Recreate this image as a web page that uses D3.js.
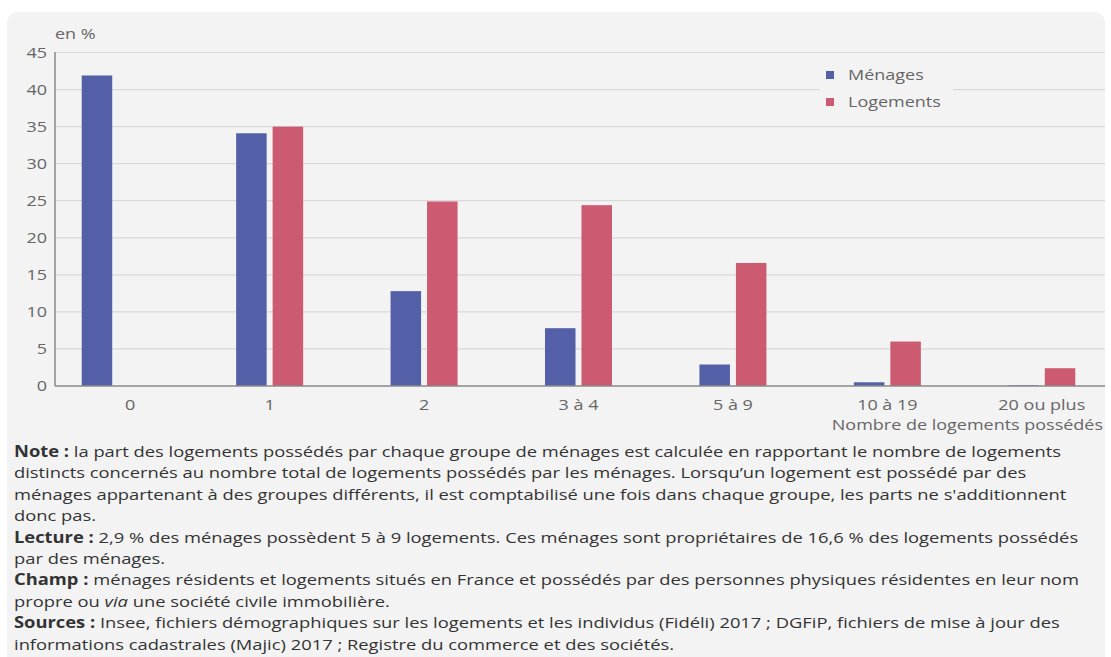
<!DOCTYPE html>
<html>
<head>
<meta charset="utf-8">
<script src="https://cdn.jsdelivr.net/npm/d3@7"></script>
<style>
  body { margin: 0; background: #fff; font-family: "Open Sans", sans-serif; }
  svg { display: block; }
</style>
</head>
<body>
<div id="chart"></div>
<script>
var categories = ["0", "1", "2", "3 à 4", "5 à 9", "10 à 19", "20 ou plus"];
var series = ["Ménages", "Logements"];
var menages = [41.9, 34.1, 12.8, 7.8, 2.9, 0.5, 0.1];
var logements = [0, 35.0, 24.9, 24.4, 16.6, 6.0, 2.4];
var yTicks = [0, 5, 10, 15, 20, 25, 30, 35, 40, 45];
var colors = ["#5360a8", "#cc5a70"];

var notes = [
  [["Note : ", true], ["la part des logements possédés par chaque groupe de ménages est calculée en rapportant le nombre de logements", false]],
  [["distincts concernés au nombre total de logements possédés par les ménages. Lorsqu’un logement est possédé par des", false]],
  [["ménages appartenant à des groupes différents, il est comptabilisé une fois dans chaque groupe, les parts ne s'additionnent", false]],
  [["donc pas.", false]],
  [["Lecture : ", true], ["2,9 % des ménages possèdent 5 à 9 logements. Ces ménages sont propriétaires de 16,6 % des logements possédés", false]],
  [["par des ménages.", false]],
  [["Champ : ", true], ["ménages résidents et logements situés en France et possédés par des personnes physiques résidentes en leur nom", false]],
  [["propre ou ", false], ["via", "i"], [" une société civile immobilière.", false]],
  [["Sources : ", true], ["Insee, fichiers démographiques sur les logements et les individus (Fidéli) 2017 ; DGFiP, fichiers de mise à jour des", false]],
  [["informations cadastrales (Majic) 2017 ; Registre du commerce et des sociétés.", false]]
];

var svgWidth = 1111;
var svgHeight = 657;
var stretch = 1.2; // the source picture is widened horizontally

var svg = d3.select("#chart")
  .append("svg")
  .attr("width", svgWidth)
  .attr("height", svgHeight);

function pos(px, py) {
  return `translate(${px},${py}) scale(${stretch},1)`;
}

// grey panel
svg.append("rect")
  .attr("x", 7).attr("y", 12)
  .attr("width", 1098).attr("height", 700)
  .attr("rx", 10)
  .attr("fill", "#f3f3f3");

var axisLeftX = 55;
var axisRightX = 1105;

var y = d3.scaleLinear().domain([0, 45]).range([386, 52.5]);

var x0 = d3.scaleBand().domain(categories).range([38, 1119]);
var x1 = d3.scaleBand().domain(series).range([0, 67]).paddingInner(0.164);

// gridlines
svg.append("g")
  .selectAll("line")
  .data(yTicks.filter(d => d > 0))
  .enter().append("line")
  .attr("x1", axisLeftX).attr("x2", axisRightX)
  .attr("y1", d => y(d)).attr("y2", d => y(d))
  .attr("stroke", "#d9d9d9")
  .attr("stroke-width", 1.2);

// y tick labels
svg.append("g")
  .selectAll("text")
  .data(yTicks)
  .enter().append("text")
  .attr("transform", d => pos(47, y(d) + 5))
  .attr("text-anchor", "end")
  .attr("fill", "#666")
  .style("font-size", "15px")
  .text(d => d);

svg.append("text")
  .attr("transform", pos(55, 39))
  .attr("fill", "#666")
  .style("font-size", "15px")
  .text("en %");

// bars
var rows = categories.map((c, i) => ({ cat: c, vals: [menages[i], logements[i]] }));

var groups = svg.append("g")
  .selectAll("g")
  .data(rows)
  .enter().append("g")
  .attr("transform", d => `translate(${x0(d.cat) + x0.bandwidth() / 2 - 33.5},0)`);

groups.selectAll("rect")
  .data(d => d.vals.map((v, j) => ({ key: series[j], value: v, j: j })))
  .enter().append("rect")
  .attr("x", d => x1(d.key))
  .attr("width", x1.bandwidth())
  .attr("y", d => y(d.value))
  .attr("height", d => y(0) - y(d.value))
  .attr("fill", d => colors[d.j]);

// axes lines
svg.append("line")
  .attr("x1", axisLeftX).attr("x2", axisLeftX)
  .attr("y1", 52).attr("y2", 386)
  .attr("stroke", "#8a8a8a").attr("stroke-width", 1.5);
svg.append("line")
  .attr("x1", axisLeftX).attr("x2", axisRightX)
  .attr("y1", 386).attr("y2", 386)
  .attr("stroke", "#8a8a8a").attr("stroke-width", 1.5);

// x labels
svg.append("g")
  .selectAll("text")
  .data(categories)
  .enter().append("text")
  .attr("transform", (d, i) => pos(x0(d) + x0.bandwidth() / 2 + (i === 0 ? 15 : 0), 410))
  .attr("text-anchor", "middle")
  .attr("fill", "#666")
  .style("font-size", "15px")
  .text(d => d);

svg.append("text")
  .attr("transform", pos(1103, 430))
  .attr("text-anchor", "end")
  .attr("fill", "#666")
  .style("font-size", "15px")
  .text("Nombre de logements possédés");

// legend
var legend = svg.append("g").attr("transform", "translate(820,60)");
legend.append("rect")
  .attr("x", 0).attr("y", 0)
  .attr("width", 133).attr("height", 52)
  .attr("fill", "#f3f3f3");
series.forEach(function(s, i) {
  legend.append("rect")
    .attr("x", 6).attr("y", 11 + i * 27)
    .attr("width", 8).attr("height", 8)
    .attr("fill", colors[i]);
  legend.append("text")
    .attr("transform", pos(28, 20 + i * 27))
    .attr("fill", "#666")
    .style("font-size", "15px")
    .text(s);
});

// notes
var notesG = svg.append("g");
notes.forEach(function(line, i) {
  var t = notesG.append("text")
    .attr("transform", pos(14, 457 + i * 21.4))
    .attr("fill", "#333")
    .style("font-size", "15.3px");
  line.forEach(function(part) {
    var ts = t.append("tspan").text(part[0]);
    if (part[1] === true) ts.style("font-weight", "bold");
    if (part[1] === "i") ts.style("font-style", "italic");
  });
});
</script>
</body>
</html>
